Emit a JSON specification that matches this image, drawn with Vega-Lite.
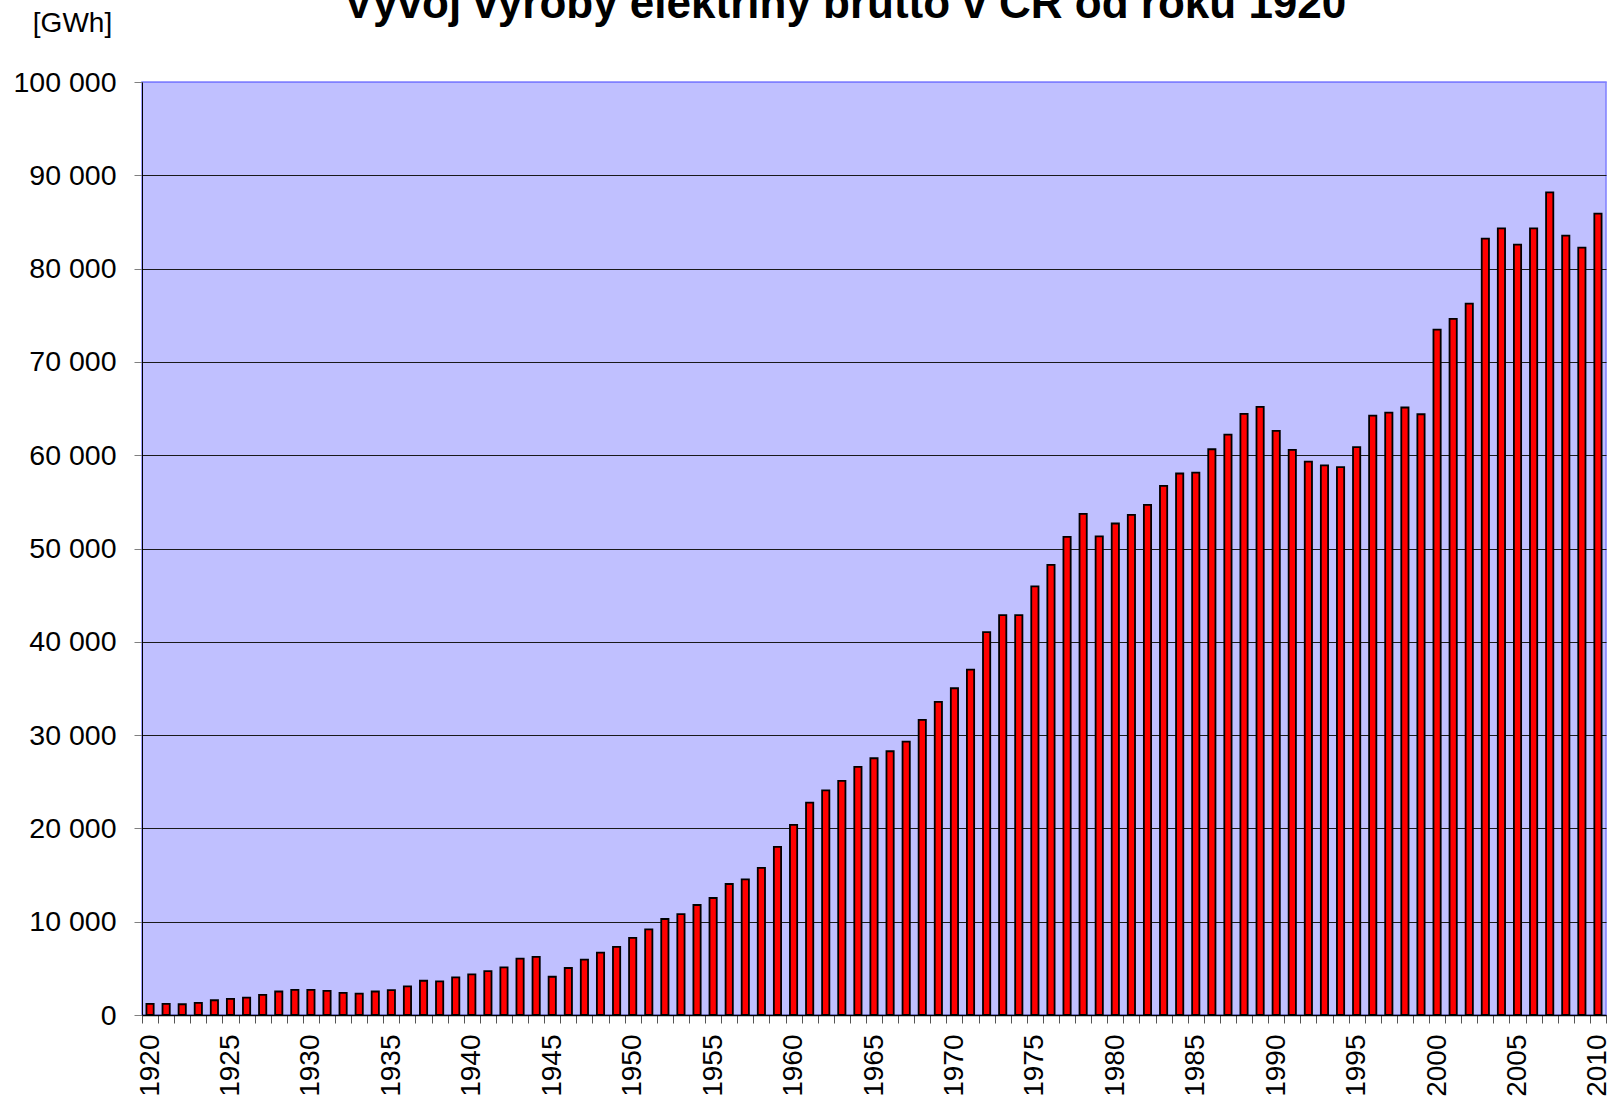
{
  "$schema": "https://vega.github.io/schema/vega-lite/v6.json",
  "width": 1464,
  "height": 933,
  "autosize": {"type": "none"},
  "padding": {"left": 142, "top": 82, "right": 10, "bottom": 88},
  "background": "white",
  "title": {
    "text": "Vývoj výroby elektřiny brutto v ČR od roku 1920",
    "font": "Liberation Sans",
    "fontSize": 44,
    "fontWeight": "bold",
    "color": "black",
    "anchor": "middle",
    "frame": "group",
    "dx": -29,
    "baseline": "alphabetic",
    "offset": 0,
    "dy": 53
  },
  "data": {
    "values": [
      {"rok": 1920, "vyroba": 1190}, {"rok": 1921, "vyroba": 1190}, {"rok": 1922, "vyroba": 1150},
      {"rok": 1923, "vyroba": 1300}, {"rok": 1924, "vyroba": 1580}, {"rok": 1925, "vyroba": 1730},
      {"rok": 1926, "vyroba": 1870}, {"rok": 1927, "vyroba": 2160}, {"rok": 1928, "vyroba": 2520},
      {"rok": 1929, "vyroba": 2700}, {"rok": 1930, "vyroba": 2700}, {"rok": 1931, "vyroba": 2590},
      {"rok": 1932, "vyroba": 2370}, {"rok": 1933, "vyroba": 2300}, {"rok": 1934, "vyroba": 2520},
      {"rok": 1935, "vyroba": 2660}, {"rok": 1936, "vyroba": 3060}, {"rok": 1937, "vyroba": 3670},
      {"rok": 1938, "vyroba": 3600}, {"rok": 1939, "vyroba": 4030}, {"rok": 1940, "vyroba": 4350},
      {"rok": 1941, "vyroba": 4710}, {"rok": 1942, "vyroba": 5110}, {"rok": 1943, "vyroba": 6040},
      {"rok": 1944, "vyroba": 6220}, {"rok": 1945, "vyroba": 4100}, {"rok": 1946, "vyroba": 5040},
      {"rok": 1947, "vyroba": 5940}, {"rok": 1948, "vyroba": 6690}, {"rok": 1949, "vyroba": 7300},
      {"rok": 1950, "vyroba": 8260}, {"rok": 1951, "vyroba": 9180}, {"rok": 1952, "vyroba": 10290},
      {"rok": 1953, "vyroba": 10820}, {"rok": 1954, "vyroba": 11790}, {"rok": 1955, "vyroba": 12540},
      {"rok": 1956, "vyroba": 14040}, {"rok": 1957, "vyroba": 14540}, {"rok": 1958, "vyroba": 15760},
      {"rok": 1959, "vyroba": 18010}, {"rok": 1960, "vyroba": 20370}, {"rok": 1961, "vyroba": 22760},
      {"rok": 1962, "vyroba": 24080}, {"rok": 1963, "vyroba": 25090}, {"rok": 1964, "vyroba": 26590},
      {"rok": 1965, "vyroba": 27520}, {"rok": 1966, "vyroba": 28270}, {"rok": 1967, "vyroba": 29300},
      {"rok": 1968, "vyroba": 31630}, {"rok": 1969, "vyroba": 33560}, {"rok": 1970, "vyroba": 35020},
      {"rok": 1971, "vyroba": 37020}, {"rok": 1972, "vyroba": 41030}, {"rok": 1973, "vyroba": 42850},
      {"rok": 1974, "vyroba": 42850}, {"rok": 1975, "vyroba": 45930}, {"rok": 1976, "vyroba": 48250},
      {"rok": 1977, "vyroba": 51250}, {"rok": 1978, "vyroba": 53710}, {"rok": 1979, "vyroba": 51290},
      {"rok": 1980, "vyroba": 52680}, {"rok": 1981, "vyroba": 53610}, {"rok": 1982, "vyroba": 54680},
      {"rok": 1983, "vyroba": 56710}, {"rok": 1984, "vyroba": 58040}, {"rok": 1985, "vyroba": 58140},
      {"rok": 1986, "vyroba": 60640}, {"rok": 1987, "vyroba": 62210}, {"rok": 1988, "vyroba": 64430},
      {"rok": 1989, "vyroba": 65180}, {"rok": 1990, "vyroba": 62610}, {"rok": 1991, "vyroba": 60570},
      {"rok": 1992, "vyroba": 59320}, {"rok": 1993, "vyroba": 58910}, {"rok": 1994, "vyroba": 58730},
      {"rok": 1995, "vyroba": 60870}, {"rok": 1996, "vyroba": 64250}, {"rok": 1997, "vyroba": 64570},
      {"rok": 1998, "vyroba": 65110}, {"rok": 1999, "vyroba": 64390}, {"rok": 2000, "vyroba": 73460},
      {"rok": 2001, "vyroba": 74610}, {"rok": 2002, "vyroba": 76250}, {"rok": 2003, "vyroba": 83210},
      {"rok": 2004, "vyroba": 84320}, {"rok": 2005, "vyroba": 82570}, {"rok": 2006, "vyroba": 84320},
      {"rok": 2007, "vyroba": 88180}, {"rok": 2008, "vyroba": 83540}, {"rok": 2009, "vyroba": 82250},
      {"rok": 2010, "vyroba": 85890}
    ]
  },
  "mark": {
    "type": "bar",
    "color": "#FF0000",
    "stroke": "#000000",
    "strokeWidth": 1.8,
    "width": {"band": 0.45}
  },
  "encoding": {
    "x": {
      "field": "rok",
      "type": "ordinal",
      "scale": {"paddingInner": 0, "paddingOuter": 0},
      "axis": {
        "title": null,
        "tickBand": "extent",
        "labelExpr": "datum.value % 5 === 0 ? datum.label : ''",
        "labelAngle": -90,
        "labelFont": "Liberation Sans",
        "labelFontSize": 28,
        "labelColor": "black",
        "labelPadding": 11,
        "labelOverlap": false,
        "tickSize": 8,
        "tickColor": "#555555",
        "domainColor": "#000000",
        "domainWidth": 1.5,
        "grid": false
      }
    },
    "y": {
      "field": "vyroba",
      "type": "quantitative",
      "scale": {"domain": [0, 100000]},
      "axis": {
        "title": "[GWh]",
        "titleAngle": 0,
        "titleX": -70,
        "titleY": -59,
        "titleAlign": "center",
        "titleBaseline": "middle",
        "titleFont": "Liberation Sans",
        "titleFontSize": 28,
        "titleFontWeight": "normal",
        "titleColor": "black",
        "values": [0, 10000, 20000, 30000, 40000, 50000, 60000, 70000, 80000, 90000, 100000],
        "labelExpr": "replace(format(datum.value, ','), ',', ' ')",
        "labelFont": "Liberation Sans",
        "labelFontSize": 28.5,
        "labelColor": "black",
        "labelPadding": 18,
        "tickSize": 8,
        "tickColor": "#808080",
        "domainColor": "#000000",
        "grid": true,
        "gridColor": {"condition": {"test": "datum.value === 100000", "value": "#8080FF"}, "value": "#1a1a1a"},
        "gridWidth": 1.2,
        "gridOpacity": 1
      }
    }
  },
  "config": {
    "view": {"fill": "#C0C0FF", "stroke": "#8080FF", "strokeWidth": 1.5}
  }
}
